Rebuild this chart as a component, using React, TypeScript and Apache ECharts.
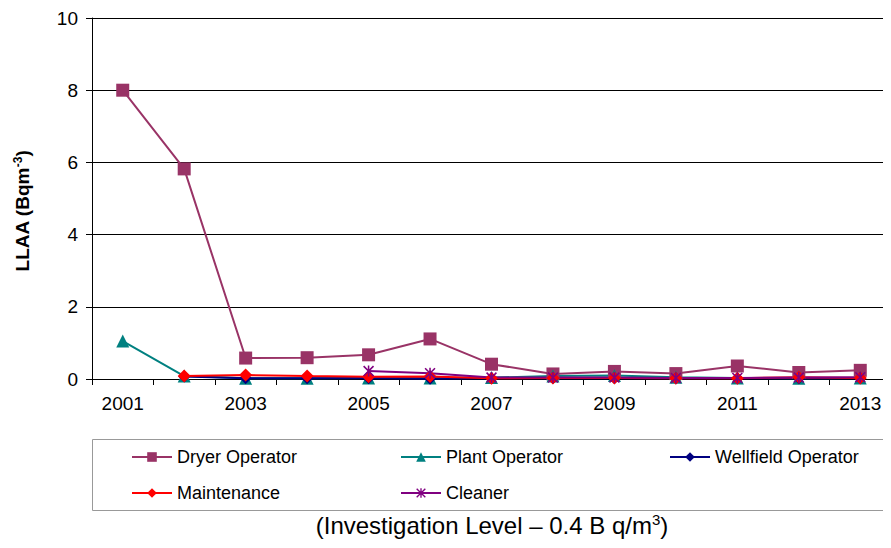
import React, { useEffect, useRef } from "react";
import * as echarts from "echarts";

const years = ["2001","2002","2003","2004","2005","2006","2007","2008","2009","2010","2011","2012","2013"];
const dryerOperator = [8.0, 5.82, 0.58, 0.59, 0.67, 1.11, 0.41, 0.14, 0.21, 0.15, 0.36, 0.18, 0.24];
const plantOperator = [1.05, 0.08, 0.02, 0.02, 0.03, 0.03, 0.04, 0.08, 0.1, 0.05, 0.03, 0.02, 0.03];
const wellfieldOperator = [null, 0.07, 0.02, 0.02, 0.02, 0.01, 0.02, 0.02, 0.02, 0.02, 0.02, 0.02, 0.02];
const maintenance = [null, 0.08, 0.11, 0.08, 0.06, 0.07, 0.02, 0.03, 0.03, 0.02, 0.02, 0.05, 0.03];
const cleaner = [null, null, null, null, 0.22, 0.16, 0.04, 0.04, 0.04, 0.03, 0.03, 0.04, 0.05];
const yTicks = { min: 0, max: 10, interval: 2 };

const FONT = "Arial, 'Liberation Sans', sans-serif";
const asterisk =
  "path://M4.3,0 L5.7,0 L5.7,10 L4.3,10 Z M0,1 L1,0 L10,9 L9,10 Z M9,0 L10,1 L1,10 L0,9 Z";

export default function App() {
  const ref = useRef<HTMLDivElement>(null);
  useEffect(() => {
    if (!ref.current) return;
    const chart = echarts.init(ref.current, undefined, { renderer: "svg" });
    const mk = (name: string, data: any[], color: string, symbol: string, size: number) => ({
      name,
      type: "line",
      data,
      color,
      symbol,
      symbolSize: size,
      showSymbol: true,
      connectNulls: false,
      lineStyle: { color, width: 2 },
      itemStyle: { color, borderColor: color, borderWidth: 0 },
    });
    const legendCommon = {
      orient: "vertical",
      itemWidth: 40,
      itemHeight: 12,
      itemGap: 18,
      textStyle: { fontSize: 18, color: "#000", fontFamily: FONT },
      selectedMode: false,
    };
    chart.setOption({
      animation: false,
      backgroundColor: "#fff",
      textStyle: { fontFamily: FONT },
      grid: { left: 92, top: 18, right: 0, bottom: 169 },
      xAxis: {
        type: "category",
        data: years,
        boundaryGap: true,
        axisLine: { lineStyle: { color: "#000", width: 1 } },
        axisTick: { show: true, interval: 0, length: 6, lineStyle: { color: "#000" } },
        axisLabel: { interval: 1, fontSize: 19, color: "#000", margin: 15, fontFamily: FONT },
      },
      yAxis: {
        type: "value",
        min: yTicks.min,
        max: yTicks.max,
        interval: yTicks.interval,
        axisLine: { show: true, lineStyle: { color: "#000", width: 1 } },
        axisTick: { show: true, length: 6, lineStyle: { color: "#000" } },
        axisLabel: { fontSize: 19, color: "#000", margin: 14, fontFamily: FONT },
        splitLine: { show: true, lineStyle: { color: "#000", width: 1 } },
      },
      legend: [
        { ...legendCommon, left: 126, top: 443, data: ["Dryer Operator", "Maintenance"] },
        { ...legendCommon, left: 395, top: 443, data: ["Plant Operator", "Cleaner"] },
        { ...legendCommon, left: 664, top: 443, data: ["Wellfield Operator"] },
      ],
      graphic: [
        {
          type: "rect",
          shape: { x: 92.5, y: 439.5, width: 820, height: 71 },
          style: { fill: "none", stroke: "#999", lineWidth: 1 },
          z: -1,
        },
        {
          type: "text",
          x: 22,
          y: 211,
          rotation: Math.PI / 2,
          style: {
            text: "LLAA (Bqm{s|-3})",
            fontSize: 19,
            fontWeight: "bold",
            fill: "#000",
            fontFamily: FONT,
            align: "center",
            verticalAlign: "middle",
            rich: {
              s: { fontSize: 12, fontWeight: "bold", verticalAlign: "top", padding: [0, 0, 9, 0], fontFamily: FONT, fill: "#000" },
            },
          },
        },
        {
          type: "text",
          x: 492,
          y: 525,
          style: {
            text: "(Investigation Level – 0.4 B q/m{s|3})",
            fontSize: 24,
            fill: "#000",
            fontFamily: FONT,
            align: "center",
            verticalAlign: "middle",
            rich: { s: { fontSize: 15, verticalAlign: "top", padding: [0, 0, 12, 0], fontFamily: FONT, fill: "#000" } },
          },
        },
      ],
      series: [
        mk("Dryer Operator", dryerOperator, "#993366", "rect", 13),
        mk("Plant Operator", plantOperator, "#008080", "triangle", 13),
        mk("Wellfield Operator", wellfieldOperator, "#000080", "diamond", 12),
        mk("Maintenance", maintenance, "#FF0000", "diamond", 13),
        mk("Cleaner", cleaner, "#800080", asterisk, 11),
      ],
    });
    return () => chart.dispose();
  }, []);
  return <div ref={ref} style={{ width: 891, height: 548, margin: -8 }} />;
}
